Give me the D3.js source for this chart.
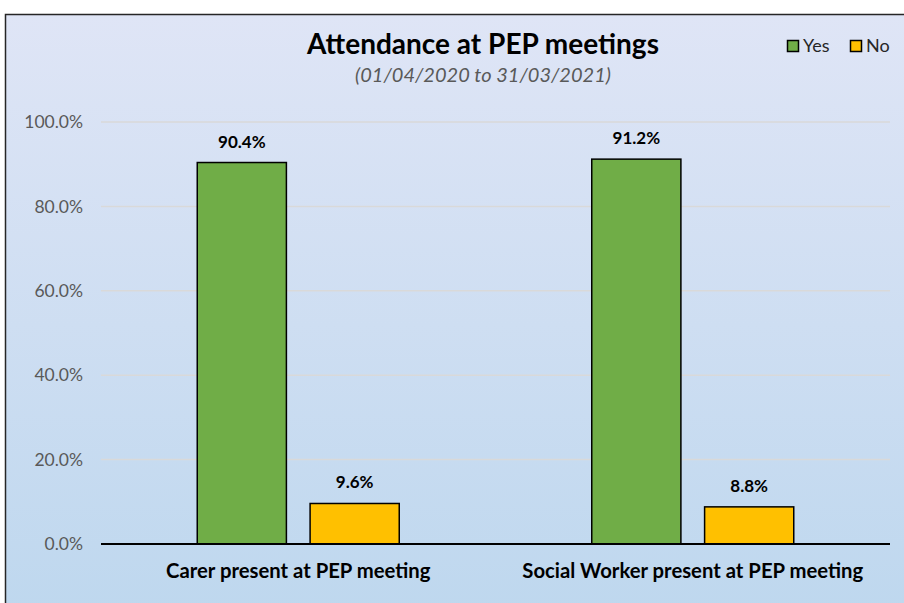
<!DOCTYPE html>
<html>
<head>
<meta charset="utf-8">
<script src="https://cdn.jsdelivr.net/npm/d3@7"></script>
<style>
  body { margin: 0; background: #ffffff; }
  text { font-family: Lato, "Open Sans", sans-serif; }
</style>
</head>
<body>
<script>
// data
var categories = ["Carer present at PEP meeting", "Social Worker present at PEP meeting"];
var seriesNames = ["Yes", "No"];
var yesValues = [90.4, 91.2];
var noValues = [9.6, 8.8];
var yTicks = [0, 20, 40, 60, 80, 100];

var colors = { Yes: "#70ad47", No: "#ffc000" };

var width = 904, height = 603;

var svg = d3.select("body").append("svg")
  .attr("width", width)
  .attr("height", height);

// background gradient
var defs = svg.append("defs");
var grad = defs.append("linearGradient")
  .attr("id", "bg")
  .attr("x1", 0).attr("y1", 0).attr("x2", 0).attr("y2", 1);
grad.append("stop").attr("offset", "0%").attr("stop-color", "#dfe5f6");
grad.append("stop").attr("offset", "100%").attr("stop-color", "#bdd7ee");

svg.append("rect")
  .attr("x", 5.5).attr("y", 14.5)
  .attr("width", 920).attr("height", 620)
  .attr("fill", "url(#bg)")
  .attr("stroke", "#262626")
  .attr("stroke-width", 1.5);

var plot = { left: 101, right: 890, top: 122, bottom: 544 };

var x0 = d3.scaleBand()
  .domain(categories)
  .range([plot.left, plot.right]);

// inner band for the two series inside each category
var x1 = d3.scaleBand()
  .domain(seriesNames)
  .range([0, 202])
  .paddingInner(0.21);

var y = d3.scaleLinear()
  .domain([0, 100])
  .range([plot.bottom, plot.top]);

// gridlines
svg.append("g")
  .selectAll("line")
  .data(yTicks.filter(function (d) { return d > 0; }))
  .enter()
  .append("line")
  .attr("x1", plot.left).attr("x2", plot.right)
  .attr("y1", function (d) { return y(d); })
  .attr("y2", function (d) { return y(d); })
  .attr("stroke", "#d9d9d9")
  .attr("stroke-width", 1.5);

// y axis labels
var yAxis = d3.axisLeft(y)
  .tickValues(yTicks)
  .tickSize(0)
  .tickPadding(18)
  .tickFormat(function (d) { return d.toFixed(1) + "%"; });

var gy = svg.append("g")
  .attr("transform", "translate(" + plot.left + ",0)")
  .call(yAxis);
gy.select(".domain").remove();
gy.selectAll("text")
  .attr("fill", "#595959")
  .style("font-size", "17.5px");

// bars
var rows = categories.map(function (c, i) {
  return { cat: c, values: [{ s: "Yes", v: yesValues[i] }, { s: "No", v: noValues[i] }] };
});

var group = svg.append("g")
  .selectAll("g")
  .data(rows)
  .enter()
  .append("g")
  .attr("transform", function (d) {
    return "translate(" + (x0(d.cat) + x0.bandwidth() / 2 - 101) + ",0)";
  });

group.selectAll("rect")
  .data(function (d) { return d.values; })
  .enter()
  .append("rect")
  .attr("x", function (d) { return x1(d.s); })
  .attr("width", x1.bandwidth())
  .attr("y", function (d) { return y(d.v); })
  .attr("height", function (d) { return y(0) - y(d.v); })
  .attr("fill", function (d) { return colors[d.s]; })
  .attr("stroke", "#000")
  .attr("stroke-width", 1.5);

group.selectAll("text")
  .data(function (d) { return d.values; })
  .enter()
  .append("text")
  .attr("x", function (d) { return x1(d.s) + x1.bandwidth() / 2; })
  .attr("y", function (d) { return y(d.v) - 15; })
  .attr("text-anchor", "middle")
  .style("font-size", "17px")
  .style("font-weight", "bold")
  .attr("fill", "#000")
  .text(function (d) { return d.v.toFixed(1) + "%"; });

// x axis line
svg.append("line")
  .attr("x1", plot.left).attr("x2", plot.right)
  .attr("y1", y(0)).attr("y2", y(0))
  .attr("stroke", "#000")
  .attr("stroke-width", 2);

// category labels
var xAxis = d3.axisBottom(x0).tickSize(0).tickPadding(20);
var gx = svg.append("g")
  .attr("transform", "translate(0," + y(0) + ")")
  .call(xAxis);
gx.select(".domain").remove();
gx.selectAll("text")
  .attr("fill", "#000")
  .style("font-size", "20.3px")
  .style("font-weight", "bold");

// title
svg.append("text")
  .attr("x", 483).attr("y", 54)
  .attr("text-anchor", "middle")
  .style("font-size", "28px")
  .style("font-weight", "bold")
  .attr("fill", "#000")
  .text("Attendance at PEP meetings");

svg.append("text")
  .attr("x", 483).attr("y", 82)
  .attr("text-anchor", "middle")
  .style("font-size", "20px")
  .style("font-style", "italic")
  .attr("fill", "#595959")
  .text("(01/04/2020 to 31/03/2021)");

// legend
var legendX = [787, 850];
var legend = svg.append("g")
  .selectAll("g")
  .data(seriesNames)
  .enter()
  .append("g")
  .attr("transform", function (d, i) { return "translate(" + legendX[i] + ",40)"; });

legend.append("rect")
  .attr("x", 0.5).attr("y", 0.5)
  .attr("width", 11).attr("height", 11)
  .attr("fill", function (d) { return colors[d]; })
  .attr("stroke", "#000")
  .attr("stroke-width", 1.5);

legend.append("text")
  .attr("x", 16).attr("y", 12)
  .style("font-size", "18px")
  .attr("fill", "#262626")
  .text(function (d) { return d; });
</script>
</body>
</html>
